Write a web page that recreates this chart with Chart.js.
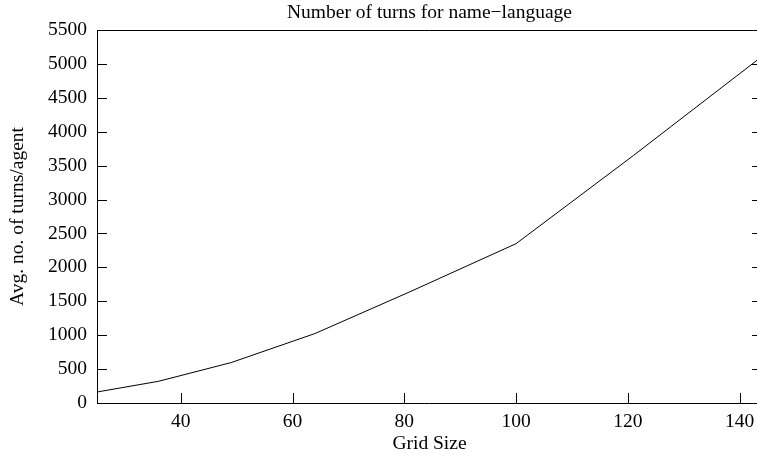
<!DOCTYPE html>
<html>
<head>
<meta charset="utf-8">
<script src="https://cdn.jsdelivr.net/npm/chart.js@4.4.1/dist/chart.umd.min.js"></script>
<style>
    html, body { margin: 0; padding: 0; background: #fff; overflow: hidden; }
    #wrap { width: 762px; height: 456px; }
</style>
</head>
<body>
<div id="wrap"><canvas id="turnsChart" width="762" height="456"></canvas></div>
<script>
// grid sizes (5^2 .. 12^2) and average turns per agent
const gridSizes = [25, 36, 49, 64, 81, 100, 121, 144];
const avgTurns = [162, 320, 596, 1024, 1640, 2350, 3650, 5110];
const xTicks = [40, 60, 80, 100, 120, 140];
const yTicks = [0, 500, 1000, 1500, 2000, 2500, 3000, 3500, 4000, 4500, 5000, 5500];

const FONT = 'Liberation Serif, Times New Roman, serif';
const FSIZE = 19.5;

// gnuplot-like frame with inward ticks (mirrored on the right for y)
const framePlugin = {
    id: 'frame',
    afterDraw(chart) {
        const ctx = chart.ctx;
        const a = chart.chartArea;
        const xs = chart.scales.x;
        const ys = chart.scales.y;
        ctx.save();
        ctx.strokeStyle = '#000';
        ctx.lineWidth = 1;
        ctx.beginPath();
        ctx.rect(Math.round(a.left) + 0.5, Math.round(a.top) + 0.5,
                 Math.round(a.right - a.left) - 1, Math.round(a.bottom - a.top));
        xTicks.forEach(v => {
            const px = Math.round(xs.getPixelForValue(v)) + 0.5;
            ctx.moveTo(px, a.bottom);
            ctx.lineTo(px, a.bottom - 10);
        });
        yTicks.forEach(v => {
            const py = Math.round(ys.getPixelForValue(v)) + 0.5;
            ctx.moveTo(a.left, py);
            ctx.lineTo(a.left + 10, py);
            ctx.moveTo(a.right, py);
            ctx.lineTo(a.right - 10, py);
        });
        ctx.stroke();
        ctx.restore();
    }
};

new Chart(document.getElementById('turnsChart'), {
    type: 'line',
    data: {
        datasets: [{
            label: 'name-language',
            data: gridSizes.map((g, i) => ({ x: g, y: avgTurns[i] })),
            borderColor: '#000',
            borderWidth: 1,
            pointRadius: 0,
            fill: false,
            tension: 0
        }]
    },
    options: {
        responsive: false,
        animation: false,
        devicePixelRatio: 1,
        layout: { padding: 0 },
        plugins: {
            legend: { display: false },
            tooltip: { enabled: false },
            title: {
                display: true,
                fullSize: false,
                text: 'Number of turns for name\u2212language',
                color: '#000',
                font: { family: FONT, size: FSIZE, weight: 'normal' },
                padding: { top: 1, bottom: 5.6 }
            }
        },
        scales: {
            x: {
                type: 'linear',
                min: 25,
                max: 144,
                afterBuildTicks: scale => { scale.ticks = xTicks.map(v => ({ value: v })); },
                afterFit: scale => { scale.height = 53; },
                grid: { display: false, drawTicks: false },
                border: { display: false },
                ticks: {
                    color: '#000',
                    padding: 7,
                    maxRotation: 0,
                    font: { family: FONT, size: FSIZE },
                    callback: value => String(value)
                },
                title: {
                    display: true,
                    text: 'Grid Size',
                    color: '#000',
                    font: { family: FONT, size: FSIZE },
                    padding: { top: 0, bottom: 0 }
                }
            },
            y: {
                type: 'linear',
                min: 0,
                max: 5500,
                afterBuildTicks: scale => { scale.ticks = yTicks.map(v => ({ value: v })); },
                afterFit: scale => { scale.width = 97; },
                grid: { display: false, drawTicks: false },
                border: { display: false },
                ticks: {
                    color: '#000',
                    padding: 10,
                    font: { family: FONT, size: FSIZE },
                    callback: value => String(value)
                },
                title: {
                    display: true,
                    text: 'Avg. no. of turns/agent',
                    color: '#000',
                    font: { family: FONT, size: FSIZE },
                    padding: { top: 6, bottom: 0 }
                }
            }
        }
    },
    plugins: [framePlugin]
});
</script>
</body>
</html>
